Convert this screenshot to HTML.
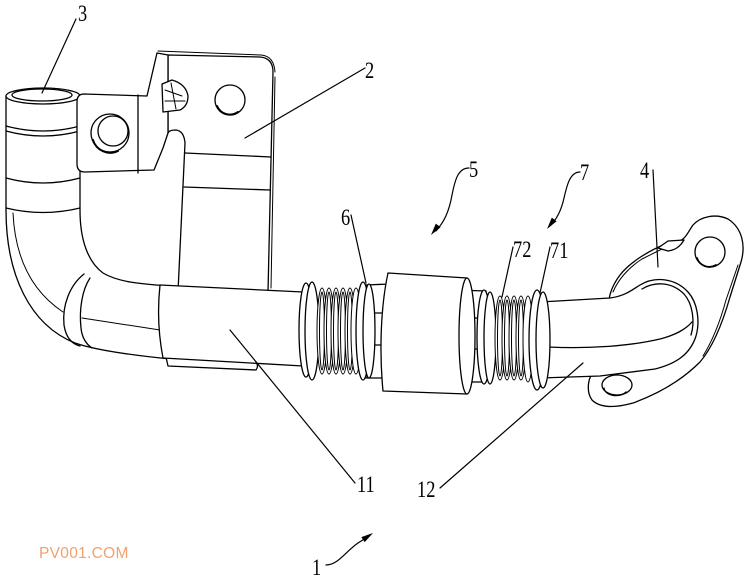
<!DOCTYPE html>
<html><head><meta charset="utf-8"><style>
html,body{margin:0;padding:0;background:#fff;}
svg{display:block;}
.l{font-family:"Liberation Serif",serif;font-size:23px;fill:#000;stroke:none;}
.w{font-family:"Liberation Sans",sans-serif;font-size:15.5px;fill:#f2a06e;stroke:none;letter-spacing:0.3px;}
</style></head><body>
<svg width="750" height="577" viewBox="0 0 750 577" xmlns="http://www.w3.org/2000/svg">
<rect width="750" height="577" fill="#fff"/>
<g fill="#fff" stroke="#000" stroke-width="1.3" stroke-linejoin="round" stroke-linecap="round">

<!-- bracket plate (2) -->
<path d="M168,55 L260,57 Q273,58 273,72 L268,292 L178,292 L185,143 Q184,131 176,130 Q169,130 168,133 Z"/>
<path d="M275,77 L271,288" fill="none" stroke-width="1"/>
<path d="M158,51 L261,55 Q274,56 275,72" fill="none" stroke-width="1"/>
<path d="M185,153 L271,157 M184,187 L270,190" fill="none"/>
<circle cx="230" cy="100" r="15"/>
<path d="M217,106 A14,14 0 0 0 238,112" fill="none" stroke-width="2"/>

<!-- pipe left (3) -->
<path d="M6,96 L6,210 C6,275 30,325 75,343 C95,350 130,355 170,359 L170,286 C140,284 118,282 103,273 C88,262 80,240 80,210 L80,96 Z"/>
<ellipse cx="43" cy="96" rx="37" ry="8"/>
<ellipse cx="42" cy="95" rx="30" ry="6"/>
<path d="M6,126 Q43,136 80,126 M6,131 Q43,141 80,131" fill="none"/>
<path d="M6,178 Q43,188 80,178 M6,208 Q43,217 80,208" fill="none"/>
<path d="M13,213 C15,255 30,290 63,312" fill="none" stroke-width="1"/>
<path d="M82,318 L160,330" fill="none" stroke-width="1"/>
<path d="M84,274 C70,285 62,305 64,325 C66,338 72,344 80,346" fill="none"/>
<path d="M90,278 C82,290 79,310 81,328 C82,338 86,344 92,348" fill="none"/>

<!-- bracket tab + bent strip -->
<path d="M84,94 L147,96 L157,53 L168,55 L168,133 L163,148 L154,170 L85,172 Q77,172 77,164 L77,102 Q77,94 84,94 Z"/>
<path d="M138,95 L138,173" fill="none"/>
<circle cx="110" cy="133" r="19"/>
<circle cx="113" cy="131" r="15"/>
<path d="M93,140 A18,18 0 0 0 118,151" fill="none" stroke-width="2"/>
<!-- clip -->
<path d="M162,84 L172,80 Q186,84 188,96 Q188,106 180,110 L163,112 Z"/>
<path d="M165,90 L182,96 M165,101 L185,101 M171,83 L176,109" fill="none" stroke-width="1"/>

<!-- sleeve 11 -->
<path d="M166,357 L256,362 Q259,366 256,370 L168,366 Z"/>
<path d="M160,285 L303,292 L303,366 L163,358 Q156,322 160,285 Z"/>

<!-- flange plate 4 -->
<path d="M593,373 C588,378 586,392 592,400 C600,408 615,408 633,403 C655,395 680,382 700,362 C712,348 722,325 730,297 L741,262 C746,245 742,228 728,219 C715,213 700,217 693,225 C688,232 686,238 680,241 L668,243 C650,250 630,262 620,275 C614,283 610,292 609,300 Z"/>
<path d="M613,292 C618,280 628,268 642,259 L662,249" fill="none" stroke-width="1"/>
<path d="M738,265 L726,300 C720,322 713,340 703,356" fill="none" stroke-width="1"/>
<path d="M658,248 L668,241 L684,240 C680,247 675,250 668,251 Z"/>
<circle cx="710" cy="252" r="15"/>
<path d="M697,258 A13,13 0 0 0 716,265" fill="none" stroke-width="1.8"/>
<ellipse cx="617" cy="385" rx="15" ry="10"/>
<path d="M604,388 A12,8 0 0 0 626,392" fill="none"/>

<!-- elbow tube 12 -->
<path d="M540,302 L610,298 C625,296 632,290 640,285 C655,276 675,278 688,292 C698,303 700,322 696,336 C690,355 675,364 655,369 L600,376 L540,378 Z"/>
<path d="M642,289 C655,281 672,282 684,294 C693,304 695,322 691,335" fill="none"/>
<path d="M548,347 C590,349 630,346 660,339 C675,335 685,330 692,322" fill="none"/>

<!-- right hex -->
<path d="M456,290 L486,291 L486,382 L456,382 Z"/>
<path d="M456,318 L486,318 M456,349 L486,349" fill="none"/>
<!-- right spring 72 -->
<ellipse cx="484" cy="337" rx="7" ry="47"/>
<ellipse cx="490" cy="338" rx="6" ry="46"/>
<g stroke-width="1">
<ellipse cx="500" cy="338" rx="5" ry="42"/><ellipse cx="500" cy="338" rx="2.5" ry="38" fill="none"/>
<ellipse cx="507" cy="338" rx="5" ry="42"/><ellipse cx="507" cy="338" rx="2.5" ry="38" fill="none"/>
<ellipse cx="514" cy="338" rx="5" ry="42"/><ellipse cx="514" cy="338" rx="2.5" ry="38" fill="none"/>
<ellipse cx="521" cy="338" rx="5" ry="42"/><ellipse cx="521" cy="338" rx="2.5" ry="38" fill="none"/>
<ellipse cx="528" cy="339" rx="5" ry="43"/>
</g>
<!-- ring 71 -->
<ellipse cx="537" cy="340" rx="8" ry="50"/>
<ellipse cx="543" cy="340" rx="7" ry="48"/>

<!-- left spring -->
<ellipse cx="306" cy="330" rx="7" ry="47"/>
<ellipse cx="312" cy="331" rx="7" ry="49"/>
<g stroke-width="1">
<ellipse cx="322" cy="331" rx="5" ry="43"/><ellipse cx="322" cy="331" rx="2.5" ry="39" fill="none"/>
<ellipse cx="329" cy="331" rx="5" ry="43"/><ellipse cx="329" cy="331" rx="2.5" ry="39" fill="none"/>
<ellipse cx="336" cy="331" rx="5" ry="43"/><ellipse cx="336" cy="331" rx="2.5" ry="39" fill="none"/>
<ellipse cx="343" cy="331" rx="5" ry="43"/><ellipse cx="343" cy="331" rx="2.5" ry="39" fill="none"/>
<ellipse cx="350" cy="331" rx="5" ry="43"/><ellipse cx="350" cy="331" rx="2.5" ry="39" fill="none"/>
<ellipse cx="356" cy="331" rx="5" ry="43"/>
</g>
<!-- left hex -->
<path d="M366,285 L390,284 L390,378 L366,378 Z"/>
<path d="M366,313 L390,313 M366,345 L390,345" fill="none"/>
<!-- ring 6 -->
<ellipse cx="363" cy="331" rx="7" ry="49"/>
<ellipse cx="369" cy="331" rx="6" ry="47"/>

<!-- big cylinder -->
<path d="M388,273 L467,278 A8,58 0 0 1 467,394 L383,391 C379,350 381,305 388,273 Z"/>
<path d="M467,278 A8,58 0 0 0 467,394" fill="none"/>
</g>

<!-- leader lines -->
<g stroke="#000" stroke-width="1.2" fill="none" stroke-linecap="round">
<path d="M76,19 L42,93"/>
<path d="M365,68 L245,138"/>
<path d="M351,215 L366,283"/>
<path d="M513,247 L502,297"/>
<path d="M550,247 L540,293"/>
<path d="M653,170 L658,267"/>
<path d="M355,483 L230,330"/>
<path d="M440,488 L583,363"/>
<path d="M469,168 C458,168 455,180 452,195 C449,212 444,222 436,231"/>
<path d="M580,172 C570,172 567,185 564,198 C561,212 556,220 550,226"/>
<path d="M326,565 C338,565 345,552 358,543 L366,538"/>
</g>
<g fill="#000" stroke="none">
<polygon points="431,235 440.6,227.2 435.8,223.6"/>
<polygon points="547,229 556.6,221.2 551.8,217.6"/>
<polygon points="373,533 364.7,542.1 361.3,537.1"/>
</g>

<!-- labels -->
<text class="l" transform="translate(78,21) scale(0.8,1)">3</text>
<text class="l" transform="translate(365,78) scale(0.8,1)">2</text>
<text class="l" transform="translate(341,225) scale(0.8,1)">6</text>
<text class="l" transform="translate(469,177) scale(0.8,1)">5</text>
<text class="l" transform="translate(513,257) scale(0.8,1)">72</text>
<text class="l" transform="translate(550,258) scale(0.8,1)">71</text>
<text class="l" transform="translate(580,180) scale(0.8,1)">7</text>
<text class="l" transform="translate(640,178) scale(0.8,1)">4</text>
<text class="l" transform="translate(357,492) scale(0.8,1)">11</text>
<text class="l" transform="translate(417,497) scale(0.8,1)">12</text>
<text class="l" transform="translate(312,575) scale(0.8,1)">1</text>

<text class="w" x="39" y="558">PV001.COM</text>
</svg>
</body></html>
